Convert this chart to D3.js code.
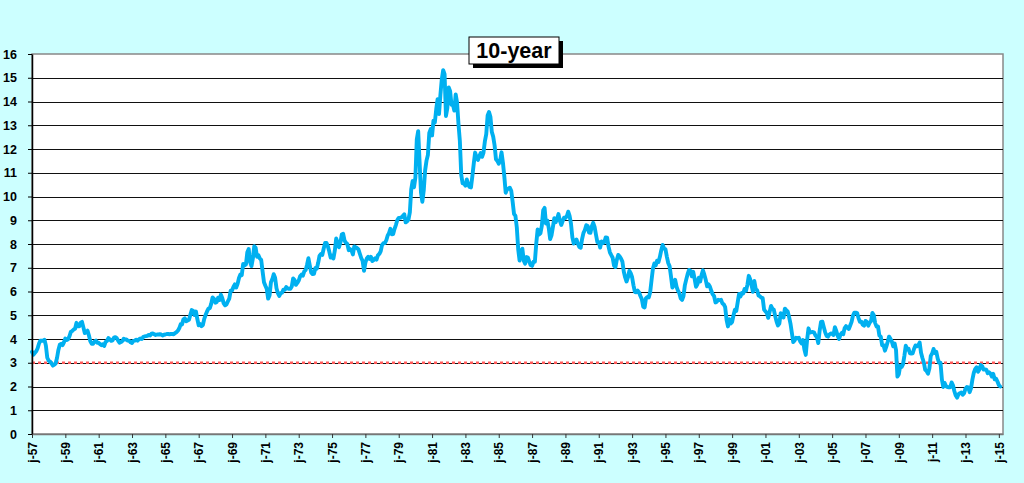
<!DOCTYPE html>
<html>
<head>
<meta charset="utf-8">
<script src="https://cdn.jsdelivr.net/npm/d3@7"></script>
<style>
  body { margin: 0; background: #ccffff; }
  svg { display: block; }
  text { font-family: Arial, "Liberation Sans", sans-serif; font-weight: bold; }
</style>
</head>
<body>
<div id="chart"></div>
<script>
// 10-year treasury yield, monthly (Jan 1957 onwards)
const startYear = 1957;
const yields = [
  3.46, 3.34, 3.41, 3.48, 3.60, 3.80, 3.93, 3.93, 3.92, 3.97, 3.72, 3.21,
  3.09, 3.05, 2.98, 2.88, 2.92, 2.97, 3.20, 3.54, 3.76, 3.80, 3.74, 3.86,
  4.02, 3.96, 3.99, 4.12, 4.31, 4.34, 4.40, 4.43, 4.68, 4.53, 4.53, 4.69,
  4.72, 4.49, 4.25, 4.28, 4.35, 4.15, 3.90, 3.80, 3.80, 3.89, 3.93, 3.84,
  3.84, 3.78, 3.74, 3.78, 3.71, 3.88, 3.92, 4.04, 3.98, 3.92, 3.94, 4.06,
  4.08, 4.04, 3.93, 3.84, 3.87, 3.91, 4.01, 3.98, 3.98, 3.93, 3.92, 3.86,
  3.83, 3.92, 3.93, 3.97, 3.93, 3.99, 4.02, 4.00, 4.08, 4.11, 4.12, 4.13,
  4.17, 4.15, 4.22, 4.23, 4.20, 4.17, 4.19, 4.19, 4.20, 4.19, 4.15, 4.18,
  4.19, 4.21, 4.21, 4.20, 4.21, 4.21, 4.20, 4.25, 4.29, 4.35, 4.45, 4.62,
  4.61, 4.83, 4.87, 4.75, 4.78, 4.81, 5.02, 5.22, 5.18, 5.01, 5.16, 4.84,
  4.58, 4.63, 4.54, 4.59, 4.85, 5.02, 5.16, 5.28, 5.30, 5.48, 5.75, 5.70,
  5.53, 5.56, 5.74, 5.64, 5.87, 5.72, 5.50, 5.42, 5.46, 5.58, 5.70, 6.03,
  6.04, 6.19, 6.30, 6.17, 6.32, 6.57, 6.72, 6.69, 7.16, 7.10, 7.14, 7.65,
  7.79, 7.24, 7.07, 7.39, 7.91, 7.84, 7.46, 7.53, 7.39, 7.33, 6.84, 6.39,
  6.24, 6.11, 5.70, 5.83, 6.39, 6.52, 6.73, 6.58, 6.14, 5.93, 5.81, 5.93,
  5.95, 6.08, 6.07, 6.19, 6.13, 6.11, 6.11, 6.21, 6.55, 6.48, 6.28, 6.36,
  6.46, 6.64, 6.71, 6.67, 6.85, 6.90, 7.13, 7.40, 7.09, 6.79, 6.73, 6.74,
  6.99, 6.96, 7.21, 7.51, 7.58, 7.54, 7.81, 8.04, 8.04, 7.90, 7.68, 7.43,
  7.50, 7.39, 7.73, 8.23, 8.06, 7.86, 8.06, 8.40, 8.43, 8.14, 8.05, 8.00,
  7.74, 7.79, 7.73, 7.56, 7.90, 7.86, 7.83, 7.77, 7.59, 7.41, 7.29, 6.87,
  7.21, 7.39, 7.46, 7.37, 7.46, 7.28, 7.33, 7.40, 7.34, 7.52, 7.58, 7.69,
  7.96, 8.03, 8.04, 8.15, 8.35, 8.46, 8.64, 8.41, 8.42, 8.64, 8.81, 9.01,
  9.10, 9.10, 9.12, 9.18, 9.25, 8.91, 8.95, 9.03, 9.33, 10.30, 10.65, 10.39,
  10.80, 12.41, 12.75, 11.47, 10.18, 9.78, 10.25, 11.10, 11.51, 11.75, 12.68, 12.84,
  12.57, 13.19, 13.12, 13.68, 14.10, 13.47, 14.28, 14.94, 15.32, 15.15, 13.39, 13.72,
  14.59, 14.43, 13.86, 13.87, 13.62, 14.30, 13.95, 13.06, 12.34, 10.91, 10.55, 10.54,
  10.46, 10.72, 10.51, 10.40, 10.38, 10.85, 11.38, 11.85, 11.65, 11.54, 11.69, 11.83,
  11.67, 11.84, 12.32, 12.63, 13.41, 13.56, 13.36, 12.72, 12.52, 12.16, 11.57, 11.50,
  11.38, 11.51, 11.86, 11.43, 10.85, 10.16, 10.31, 10.33, 10.37, 10.24, 9.78, 9.26,
  9.19, 8.70, 7.78, 7.30, 7.71, 7.80, 7.30, 7.17, 7.45, 7.43, 7.25, 7.11,
  7.08, 7.25, 7.25, 8.02, 8.61, 8.40, 8.45, 8.76, 9.42, 9.52, 8.86, 8.99,
  8.67, 8.21, 8.37, 8.72, 9.09, 8.92, 9.06, 9.26, 8.98, 8.80, 8.96, 9.11,
  9.09, 9.17, 9.36, 9.18, 8.86, 8.28, 8.02, 8.11, 8.19, 8.01, 7.87, 7.84,
  8.21, 8.47, 8.59, 8.79, 8.76, 8.48, 8.47, 8.75, 8.89, 8.72, 8.39, 8.08,
  8.09, 7.85, 8.11, 8.04, 8.07, 8.28, 8.27, 7.90, 7.65, 7.53, 7.42, 7.09,
  7.03, 7.34, 7.54, 7.48, 7.39, 7.26, 6.84, 6.59, 6.42, 6.59, 6.87, 6.77,
  6.60, 6.26, 5.98, 5.97, 6.04, 5.96, 5.81, 5.68, 5.36, 5.33, 5.72, 5.77,
  5.75, 5.97, 6.48, 6.97, 7.18, 7.10, 7.30, 7.24, 7.46, 7.74, 7.96, 7.81,
  7.78, 7.47, 7.20, 7.06, 6.63, 6.17, 6.28, 6.49, 6.20, 6.04, 5.93, 5.71,
  5.65, 5.81, 6.27, 6.51, 6.74, 6.91, 6.87, 6.64, 6.83, 6.53, 6.20, 6.30,
  6.58, 6.42, 6.69, 6.89, 6.71, 6.49, 6.22, 6.30, 6.21, 6.03, 5.88, 5.81,
  5.54, 5.57, 5.65, 5.64, 5.65, 5.50, 5.46, 5.34, 4.81, 4.53, 4.83, 4.65,
  4.72, 5.00, 5.23, 5.18, 5.54, 5.90, 5.79, 5.94, 5.92, 6.11, 6.03, 6.28,
  6.66, 6.52, 6.26, 5.99, 6.44, 6.10, 6.05, 5.83, 5.80, 5.74, 5.72, 5.24,
  5.16, 5.10, 4.89, 5.14, 5.39, 5.28, 5.24, 4.97, 4.73, 4.57, 4.65, 5.09,
  5.04, 4.91, 5.28, 5.21, 5.16, 4.93, 4.65, 4.26, 3.87, 3.94, 4.05, 4.03,
  4.05, 3.90, 3.81, 3.96, 3.57, 3.33, 3.98, 4.45, 4.27, 4.29, 4.30, 4.27,
  4.15, 4.08, 3.83, 4.35, 4.72, 4.73, 4.50, 4.28, 4.13, 4.10, 4.19, 4.23,
  4.22, 4.17, 4.50, 4.34, 4.14, 4.00, 4.18, 4.26, 4.20, 4.46, 4.54, 4.47,
  4.42, 4.57, 4.72, 4.99, 5.11, 5.11, 5.09, 4.88, 4.72, 4.73, 4.60, 4.56,
  4.76, 4.72, 4.56, 4.69, 4.75, 5.10, 5.00, 4.67, 4.52, 4.53, 4.15, 4.10,
  3.74, 3.74, 3.51, 3.68, 3.88, 4.10, 4.01, 3.89, 3.69, 3.81, 3.53, 2.42,
  2.52, 2.87, 2.82, 2.93, 3.29, 3.72, 3.56, 3.59, 3.40, 3.39, 3.40, 3.59,
  3.73, 3.69, 3.73, 3.85, 3.42, 3.20, 3.01, 2.70, 2.65, 2.54, 2.76, 3.29,
  3.39, 3.58, 3.41, 3.46, 3.17, 3.00, 3.00, 2.30, 1.98, 2.15, 2.01, 1.98,
  1.97, 1.97, 2.17, 2.05, 1.80, 1.62, 1.53, 1.68, 1.72, 1.75, 1.65, 1.72,
  1.91, 1.98, 1.96, 1.76, 1.93, 2.30, 2.58, 2.74, 2.81, 2.62, 2.72, 2.90,
  2.86, 2.71, 2.72, 2.71, 2.56, 2.60, 2.54, 2.42, 2.53, 2.30, 2.33, 2.21,
  2.06, 2.00
];
const yTicks = [0, 1, 2, 3, 4, 5, 6, 7, 8, 9, 10, 11, 12, 13, 14, 15, 16];
const xTickYears = d3.range(1957, 2016, 2);   // j-57, j-59, ... j-15
const refLevel = 3;
const title = "10-year";

const width = 1024, height = 483;
const margin = { top: 54, right: 21, bottom: 49, left: 32 };

const svg = d3.select('#chart').append('svg')
    .attr('width', width)
    .attr('height', height);

// month index from Jan 1957
const x = d3.scaleLinear()
    .domain([0, 699])
    .range([margin.left, width - margin.right]);

const y = d3.scaleLinear()
    .domain([0, 16])
    .range([height - margin.bottom, margin.top]);

// plot area
svg.append('rect')
    .attr('x', margin.left)
    .attr('y', margin.top)
    .attr('width', width - margin.right - margin.left)
    .attr('height', height - margin.bottom - margin.top)
    .attr('fill', '#fff')
    .attr('stroke', '#888')
    .attr('stroke-width', 1.5);

// horizontal gridlines
svg.append('g')
    .selectAll('line')
    .data(yTicks.slice(1, -1))
    .join('line')
    .attr('x1', margin.left)
    .attr('x2', width - margin.right)
    .attr('y1', d => Math.round(y(d)) + 0.5)
    .attr('y2', d => Math.round(y(d)) + 0.5)
    .attr('stroke', '#111')
    .attr('stroke-width', 1.2);

// red dotted reference at 3%
svg.append('line')
    .attr('x1', margin.left)
    .attr('x2', width - margin.right)
    .attr('y1', y(refLevel))
    .attr('y2', y(refLevel))
    .attr('stroke', '#ff5c5c')
    .attr('stroke-width', 2.4)
    .attr('stroke-dasharray', '3,3');

// the yield line
const line = d3.line()
    .x((d, i) => x(i))
    .y(d => y(d));

svg.append('path')
    .datum(yields)
    .attr('fill', 'none')
    .attr('stroke', '#00b0f0')
    .attr('stroke-width', 3.9)
    .attr('stroke-linejoin', 'round')
    .attr('stroke-linecap', 'round')
    .attr('d', line);

// y axis
const yAxis = svg.append('g')
    .attr('transform', `translate(${margin.left},0)`)
    .call(d3.axisLeft(y).tickValues(yTicks).tickSize(4).tickPadding(11).tickSizeOuter(0));
yAxis.select('.domain').attr('stroke', '#000').attr('stroke-width', 1.5);
yAxis.selectAll('.tick line').attr('stroke', '#000');
yAxis.selectAll('text').attr('font-size', 12.5).attr('fill', '#000')
    .attr('font-family', 'Arial, "Liberation Sans", sans-serif').attr('font-weight', 'bold');

// x axis
const xAxis = svg.append('g')
    .attr('transform', `translate(0,${height - margin.bottom})`)
    .call(d3.axisBottom(x)
        .tickValues(xTickYears.map(yr => (yr - startYear) * 12))
        .tickFormat(i => 'j-' + String(startYear + i / 12).slice(2))
        .tickSize(4)
        .tickSizeOuter(0));
xAxis.select('.domain').attr('stroke', '#777').attr('stroke-width', 1.5);
xAxis.selectAll('.tick line').attr('stroke', '#333');
xAxis.selectAll('text')
    .attr('font-size', 12)
    .attr('fill', '#000')
    .attr('font-family', 'Arial, "Liberation Sans", sans-serif')
    .attr('font-weight', 'bold')
    .attr('text-anchor', 'end')
    .attr('dy', '0.35em')
    .attr('transform', 'translate(0,8) rotate(-90)')
    .attr('x', 0)
    .attr('y', 0);

// title box with shadow
const tb = { x: 469, y: 37, w: 90, h: 27 };
svg.append('rect')
    .attr('x', tb.x + 4).attr('y', tb.y + 4)
    .attr('width', tb.w).attr('height', tb.h)
    .attr('fill', '#000');
svg.append('rect')
    .attr('x', tb.x).attr('y', tb.y)
    .attr('width', tb.w).attr('height', tb.h)
    .attr('fill', '#fff')
    .attr('stroke', '#000')
    .attr('stroke-width', 1);
svg.append('text')
    .attr('x', tb.x + tb.w / 2)
    .attr('y', tb.y + tb.h / 2 + 7.5)
    .attr('text-anchor', 'middle')
    .attr('font-size', 21.5)
    .attr('fill', '#000')
    .text(title);
</script>
</body>
</html>
